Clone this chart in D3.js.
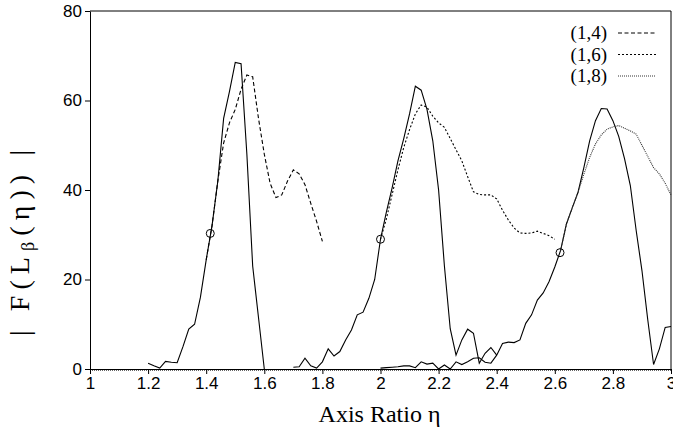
<!DOCTYPE html>
<html>
<head>
<meta charset="utf-8">
<script src="https://cdn.jsdelivr.net/npm/d3@7"></script>
<style>
  body { margin: 0; background: #fff; }
  svg { font-family: "Liberation Serif", "DejaVu Serif", serif; }
  .axis text { font-size: 17px; fill: #000; }
  .axis path, .axis line { stroke: #000; stroke-width: 1; }
  .curve { fill: none; stroke: #000; stroke-width: 1.1; }
</style>
</head>
<body>
<div id="chart"></div>
<script>
// data
var xTicks = [1, 1.2, 1.4, 1.6, 1.8, 2, 2.2, 2.4, 2.6, 2.8, 3];
var yTicks = [0, 20, 40, 60, 80];

// solid curves
var etaA = [1.20,1.22,1.24,1.26,1.28,1.30,1.32,1.34,1.36,1.38,1.40,1.42,1.44,1.46,1.48,1.50,1.52,1.54,1.56,1.58,1.60];
var solidA = [1.3,0.7,0.2,1.7,1.5,1.4,5,8.9,10,16,24.4,32,42,56,62,68.5,68.2,48,23,11.5,0];

var etaB = [1.70,1.72,1.74,1.76,1.78,1.80,1.82,1.84,1.86,1.88,1.90,1.92,1.94,1.96,1.98,2.00,2.02,2.04,2.06,2.08,2.10,2.12,2.14,2.16,2.18,2.20,2.22,2.24,2.26,2.28,2.30,2.32,2.34,2.36,2.38,2.40];
var solidB = [0.4,0.5,2.4,0.7,0.2,1.6,4.5,2.9,3.9,6.5,8.7,12.1,12.7,15.8,20,29,35,40.5,46.5,51.5,57,63.2,62.3,58,51,40,23,9,3.1,6.5,8.9,8,1.3,3.5,4.8,3.1];

var etaC = [2.00,2.02,2.04,2.06,2.08,2.10,2.12,2.14,2.16,2.18,2.20,2.22,2.24,2.26,2.28,2.30,2.32,2.34,2.36,2.38,2.40,2.42,2.44,2.46,2.48,2.50,2.52,2.54,2.56,2.58,2.60,2.62,2.64,2.66,2.68,2.70,2.72,2.74,2.76,2.78,2.80,2.82,2.84,2.86,2.88,2.90,2.92,2.94,2.96,2.98,3.00];
var solidC = [0.2,0.3,0.4,0.5,0.7,0.7,0.3,1.6,1.1,1.3,0,0.9,0,1.6,1,1.6,2.4,2.5,1.5,1.3,3.1,5.7,6,5.9,6.5,10.2,12.1,15.4,17,19.5,22.8,26.5,32.4,36,39.5,45,51,55.5,58.2,58.1,55.5,52,47,41,31,22,11,1,4.5,9.3,9.5];

// (1,4) dashed
var eta14 = [1.40,1.42,1.44,1.46,1.48,1.50,1.52,1.54,1.56,1.58,1.60,1.62,1.64,1.66,1.68,1.70,1.72,1.74,1.76,1.78,1.80];
var val14 = [24.4,32,42,50.5,55,58,62.5,65.7,65.3,56,48,41.5,38.3,38.9,42,44.5,43.6,41.2,37,33,28.5];

// (1,6) dotted
var eta16 = [2.00,2.02,2.04,2.06,2.08,2.10,2.12,2.14,2.16,2.18,2.20,2.22,2.24,2.26,2.28,2.30,2.32,2.34,2.36,2.38,2.40,2.42,2.44,2.46,2.48,2.50,2.52,2.54,2.56,2.58,2.60];
var val16 = [29,33.5,39,44.5,49.5,53.5,57,59,58.5,56.5,55,54,51.5,49,46.5,43,39.6,39,38.9,38.9,38,35.5,33.3,31.5,30.4,30.3,30.4,30.8,30.3,29.8,29];

// (1,8) fine dotted
var eta18 = [2.62,2.64,2.66,2.68,2.70,2.72,2.74,2.76,2.78,2.80,2.82,2.84,2.86,2.88,2.90,2.92,2.94,2.96,2.98,3.00];
var val18 = [26.5,32.4,36,39.5,43.5,47.3,50.3,52.3,53.6,54.1,54.4,53.8,53.2,52.5,50,47.5,45,43.6,41.5,38.9];

// marked crossing points
var markEta = [1.414, 2.0, 2.618];
var markVal = [30.3, 29, 26];

var legendNames = ["(1,4)", "(1,6)", "(1,8)"];
var legendDash = ["4,2.5", "2,2", "1,1"];

var W = 673, H = 432;
var margin = {top: 11, right: 2, bottom: 63, left: 90};
var width = W - margin.left - margin.right;
var height = H - margin.top - margin.bottom;

var svg = d3.select("#chart").append("svg")
  .attr("width", W)
  .attr("height", H)
  .append("g")
  .attr("transform", "translate(" + margin.left + "," + margin.top + ")");

var xScale = d3.scaleLinear().domain([1, 3]).range([0, width]);
var yScale = d3.scaleLinear().domain([0, 80]).range([height, 0]);

function zip(xs, ys) { return xs.map(function(x, i) { return [x, ys[i]]; }); }

var line = d3.line()
  .x(function(d) { return xScale(d[0]); })
  .y(function(d) { return yScale(d[1]); });

// zero level where all series sit
svg.append("path")
  .attr("class", "curve")
  .attr("d", line([[1, 0], [3, 0]]))
  .attr("transform", "translate(0,1)")
  .style("stroke", "#666")
  .style("stroke-width", 2)
  .style("stroke-dasharray", "1,1");

// frame
svg.append("line").attr("x1", 0).attr("x2", width).attr("y1", 0).attr("y2", 0).style("stroke", "#000");
svg.append("line").attr("x1", width).attr("x2", width).attr("y1", 0).attr("y2", height).style("stroke", "#000");

// axes
svg.append("g")
  .attr("class", "axis")
  .attr("transform", "translate(0," + height + ")")
  .call(d3.axisBottom(xScale).tickValues(xTicks).tickFormat(function(d) { return d; }).tickSize(5).tickSizeOuter(0).tickPadding(3));

svg.append("g")
  .attr("class", "axis")
  .call(d3.axisLeft(yScale).tickValues(yTicks).tickSize(5).tickSizeOuter(0).tickPadding(3));

// curves
var solids = [zip(etaA, solidA), zip(etaB, solidB), zip(etaC, solidC)];
svg.selectAll(".solid")
  .data(solids)
  .enter()
  .append("path")
  .attr("class", "curve solid")
  .attr("d", line);

var approx = [zip(eta14, val14), zip(eta16, val16), zip(eta18, val18)];
svg.selectAll(".approx")
  .data(approx)
  .enter()
  .append("path")
  .attr("class", "curve approx")
  .style("stroke-dasharray", function(d, i) { return legendDash[i]; })
  .style("stroke", function(d, i) { return i === 2 ? "#333" : "#000"; })
  .attr("d", line);

// circles
svg.selectAll(".mark")
  .data(zip(markEta, markVal))
  .enter()
  .append("circle")
  .attr("class", "mark")
  .attr("cx", function(d) { return xScale(d[0]); })
  .attr("cy", function(d) { return yScale(d[1]); })
  .attr("r", 4)
  .style("fill", "none")
  .style("stroke", "#000");

// legend
var legend = svg.selectAll(".legend")
  .data(legendNames)
  .enter()
  .append("g")
  .attr("class", "legend")
  .attr("transform", function(d, i) { return "translate(0," + (22 + i * 21.5) + ")"; });

legend.append("text")
  .attr("x", 517)
  .attr("y", 6)
  .attr("text-anchor", "end")
  .style("font-size", "19px")
  .text(function(d) { return d; });

legend.append("line")
  .attr("x1", 528)
  .attr("x2", 566)
  .attr("y1", 0)
  .attr("y2", 0)
  .style("stroke", function(d, i) { return i === 2 ? "#333" : "#000"; })
  .style("stroke-dasharray", function(d, i) { return legendDash[i]; });

// axis titles
svg.append("text")
  .attr("x", xScale(2) - 1)
  .attr("y", height + 53)
  .attr("text-anchor", "middle")
  .style("font-size", "24px")
  .text("Axis Ratio η");

var ylab = svg.append("text")
  .attr("transform", "translate(-61," + 232 + ") rotate(-90)")
  .attr("text-anchor", "middle")
  .attr("textLength", 186)
  .attr("lengthAdjust", "spacing")
  .style("font-size", "28px");
ylab.append("tspan").text("| F(L");
ylab.append("tspan").attr("dy", 5).style("font-size", "18px").text("β");
ylab.append("tspan").attr("dy", -5).text("(η)) |");
</script>
</body>
</html>
